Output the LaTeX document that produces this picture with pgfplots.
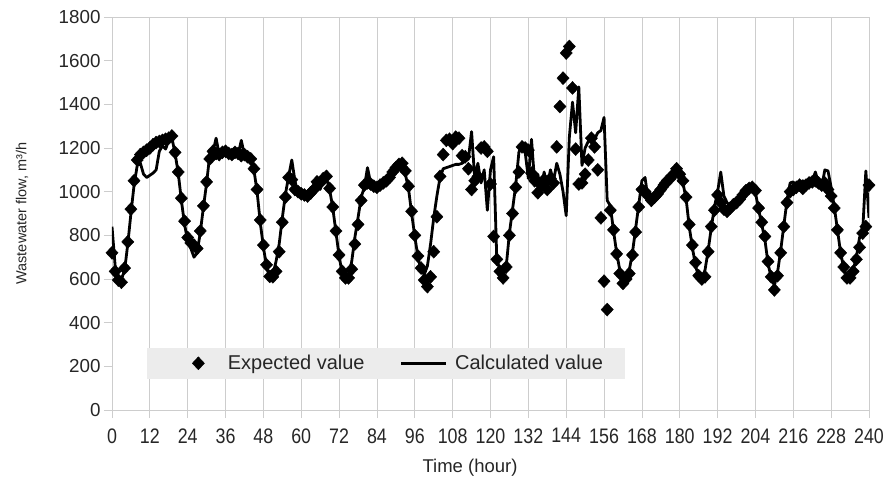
\documentclass[border=0pt]{standalone}
\usepackage{fontspec}
\setmainfont{Liberation Sans}
\newfontfamily\narrowsans{Liberation Sans}[FakeStretch=0.85]
\usepackage{pgfplots}
\usepackage{pgfplotstable}
\pgfplotsset{compat=1.18}

% hourly wastewater flow: expected (e) and calculated (c), m3/h
\pgfplotstableread{
h e c
0 720 840
1 635 660
2 595 610
3 585 600
4 650 640
5 770 760
6 920 900
7 1050 1030
8 1145 1120
9 1170 1130
10 1180 1080
11 1190 1065
12 1200 1075
13 1215 1085
14 1225 1100
15 1230 1185
16 1235 1210
17 1240 1195
18 1245 1235
19 1255 1245
20 1180 1175
21 1090 1085
22 970 960
23 865 850
24 790 775
25 765 740
26 755 700
27 740 720
28 820 815
29 935 930
30 1045 1040
31 1150 1170
32 1185 1180
33 1175 1245
34 1170 1170
35 1180 1160
36 1185 1190
37 1175 1175
38 1170 1160
39 1180 1185
40 1175 1170
41 1165 1235
42 1170 1165
43 1160 1160
44 1150 1150
45 1105 1100
46 1010 1000
47 870 860
48 755 745
49 665 660
50 612 605
51 610 620
52 635 680
53 725 760
54 860 880
55 975 990
56 1065 1070
57 1055 1145
58 1010 1050
59 1000 990
60 990 985
61 985 975
62 980 995
63 995 970
64 1010 1030
65 1045 1060
66 1040 1010
67 1060 1075
68 1070 1060
69 1015 1010
70 930 925
71 820 815
72 710 705
73 635 625
74 605 600
75 605 615
76 645 680
77 760 790
78 850 880
79 960 975
80 1030 1020
81 1040 1110
82 1035 1040
83 1025 1030
84 1020 1015
85 1030 1040
86 1040 1035
87 1050 1060
88 1065 1075
89 1090 1095
90 1110 1105
91 1125 1125
92 1130 1115
93 1095 1080
94 1025 1015
95 910 900
96 800 795
97 705 700
98 650 640
99 595 620
100 565 660
101 610 760
102 725 880
103 885 980
104 1070 1065
105 1170 1105
106 1235 1110
107 1240 1115
108 1220 1120
109 1250 1125
110 1245 1125
111 1165 1130
112 1160 1140
113 1105 1150
114 1010 1275
115 1050 1060
116 1070 1130
117 1200 1040
118 1205 1100
119 1185 915
120 1035 1100
121 795 1160
122 690 690
123 635 640
124 605 610
125 655 660
126 800 810
127 900 920
128 1020 1030
129 1090 1180
130 1205 1220
131 1200 1180
132 1190 1060
133 1085 1240
134 1050 1040
135 995 1080
136 1030 1000
137 1055 1090
138 1010 1020
139 1060 1100
140 1040 1050
141 1205 1130
142 1390 1080
143 1520 1000
144 1635 890
145 1665 1250
146 1475 1410
147 1195 1270
148 1035 1480
149 1040 1120
150 1080 1200
151 1145 1230
152 1245 1260
153 1205 1240
154 1100 1270
155 880 1280
156 590 1340
157 460 960
158 915 935
159 825 820
160 715 720
161 625 640
162 580 590
163 600 610
164 625 640
165 710 720
166 815 830
167 930 940
168 1010 1050
169 1000 1065
170 980 960
171 960 940
172 975 975
173 990 1010
174 1010 1040
175 1030 1050
176 1050 1020
177 1060 1070
178 1080 1090
179 1105 1095
180 1080 1080
181 1050 1040
182 975 970
183 850 840
184 755 745
185 675 660
186 615 610
187 600 605
188 610 640
189 725 730
190 840 835
191 915 930
192 985 1000
193 950 1090
194 920 980
195 910 950
196 925 935
197 940 960
198 950 955
199 965 975
200 985 990
201 1005 1020
202 1015 1025
203 1020 1020
204 1005 995
205 925 920
206 860 850
207 795 780
208 680 670
209 610 605
210 550 570
211 615 630
212 720 730
213 840 845
214 950 960
215 1000 1040
216 1010 1045
217 1020 1010
218 1030 1020
219 1015 1050
220 1030 1040
221 1040 1060
222 1045 1050
223 1050 1090
224 1040 1040
225 1030 1020
226 1040 1100
227 1010 1095
228 980 1020
229 925 930
230 825 825
231 720 720
232 655 650
233 605 610
234 605 620
235 635 640
236 690 700
237 745 790
238 810 820
239 840 1095
240 1030 880
}\flowdata

\definecolor{gridgray}{RGB}{205,205,205}
\definecolor{legendfill}{RGB}{236,236,236}

\begin{document}
\begin{tikzpicture}
\useasboundingbox (-112pt,-78pt) rectangle (775pt,410pt);
\begin{axis}[
  scale only axis,
  width=757pt, height=393pt,
  xmin=0, xmax=240, ymin=0, ymax=1800,
  xtick={0,12,...,240},
  ytick={0,200,...,1800},
  tick pos=left,
  tick align=outside,
  major tick length=8pt,
  xmajorgrids,
  grid style={draw=gridgray, line width=0.8pt},
  axis line style={draw=gridgray, line width=0.8pt},
  tick style={draw=gridgray, line width=0.8pt},
  /pgf/number format/assume math mode=true,
  /pgf/number format/1000 sep={},
  x tick label style={font=\narrowsans\fontsize{21}{21}\selectfont, text=black!85, yshift=-7pt},
  y tick label style={font=\fontsize{18.8}{19}\selectfont, text=black!85},
  xlabel={Time (hour)},
  ylabel={Wastewater flow, m³/h},
  xlabel style={font=\fontsize{18.5}{18.5}\selectfont, text=black!85,
    at={([yshift=-58pt]axis description cs:0.473,0)}, anchor=center},
  ylabel style={font=\fontsize{14.5}{14.5}\selectfont, text=black!85,
    at={([xshift=-90pt]axis description cs:0,0.5)}, anchor=center},
  legend columns=2,
  legend style={
    at={(rel axis cs:0.0462,0.0789)}, anchor=south west,
    draw=none, fill=legendfill,
    inner xsep=22pt, inner ysep=7.5pt,
    font=\fontsize{20}{20}\selectfont,
    nodes={inner sep=0pt, text=black!85},
    /tikz/every odd column/.append style={column sep=0pt},
    /tikz/every even column/.append style={column sep=35pt},
  },
]
\addplot[only marks, mark=diamond*, mark size=6.5pt,
  mark options={xscale=1.25, draw=black, fill=black},
  legend image code/.code={
    \path (-29pt,0pt) (29.3pt,0pt);
    \draw[mark=diamond*, mark size=6.5pt, mark options={xscale=1.25, draw=black, fill=black}, only marks] plot coordinates {(0pt,0pt)};
  }]
  table[x=h, y=e] {\flowdata};
\addlegendentry{Expected value}
\addplot[black, line width=2.8pt, line join=round, no marks,
  legend image code/.code={
    \path (0pt,0pt) (52.7pt,0pt);
    \draw[black, line width=2.8pt] (0pt,0pt) -- (45pt,0pt);
  }]
  table[x=h, y=c] {\flowdata};
\addlegendentry{Calculated value}
\end{axis}
\end{tikzpicture}
\end{document}
